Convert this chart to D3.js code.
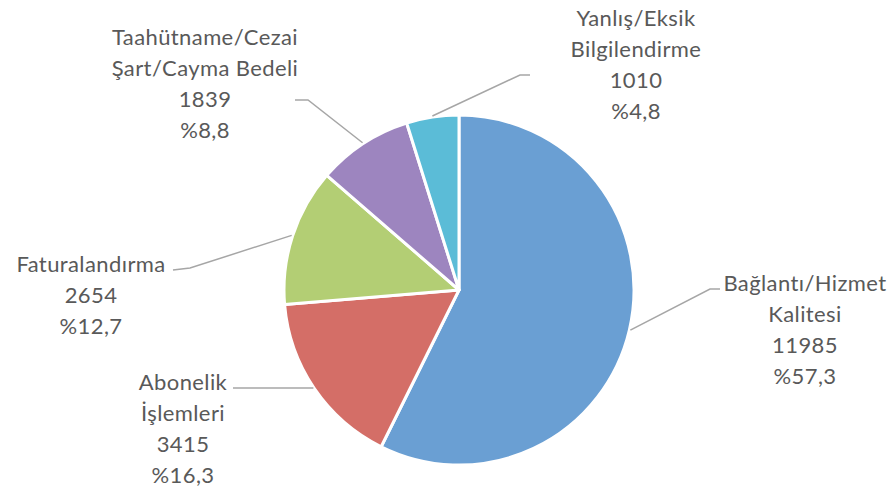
<!DOCTYPE html>
<html>
<head>
<meta charset="utf-8">
<script src="https://cdn.jsdelivr.net/npm/d3@7"></script>
<style>
html,body{margin:0;padding:0;background:#fff;}
svg{display:block;}
</style>
</head>
<body>
<svg id="chart" width="890" height="491"></svg>
<script>
const categories = ["Bağlantı/Hizmet Kalitesi", "Abonelik İşlemleri", "Faturalandırma", "Taahütname/Cezai Şart/Cayma Bedeli", "Yanlış/Eksik Bilgilendirme"];
const labelLines = [["Bağlantı/Hizmet", "Kalitesi"], ["Abonelik", "İşlemleri"], ["Faturalandırma"], ["Taahütname/Cezai", "Şart/Cayma Bedeli"], ["Yanlış/Eksik", "Bilgilendirme"]];
const values = [11985, 3415, 2654, 1839, 1010];
const percents = ["%57,3", "%16,3", "%12,7", "%8,8", "%4,8"];
const colors = ["#6a9fd3", "#d46e67", "#b3ce74", "#9d85bf", "#5bbcd7"];

// layout (positions of label blocks and leader elbows)
const layout = [
  {tx: 805, ty: 283, elbow: [710, 289], end: [720, 289]},
  {tx: 183, ty: 382, elbow: null, end: [233, 388]},
  {tx: 91,  ty: 264, elbow: [190, 268], end: [173, 270]},
  {tx: 205, ty: 37,  elbow: [308, 100], end: [295, 100]},
  {tx: 636, ty: 18,  elbow: [520, 75], end: [530, 75]}
];

const cx = 459, cy = 290, R = 175;
const svg = d3.select("#chart");
const g = svg.append("g").attr("transform", `translate(${cx},${cy})`);

const pie = d3.pie().sort(null).value(d => d);
const arcs = pie(values);
const arc = d3.arc().innerRadius(0).outerRadius(R);
const outer = d3.arc().innerRadius(R + 1).outerRadius(R + 1);

// leader lines
arcs.forEach((a, i) => {
  const p0 = outer.centroid(a);
  const L = layout[i];
  const pts = [[p0[0] + cx, p0[1] + cy]];
  if (L.elbow) pts.push(L.elbow);
  else pts[0][1] = L.end[1];
  pts.push(L.end);
  svg.append("path")
    .attr("d", d3.line()(pts))
    .attr("fill", "none")
    .attr("stroke", "#a6a6a6")
    .attr("stroke-width", 1.5);
});

g.selectAll("path.slice")
  .data(arcs)
  .join("path")
  .attr("class", "slice")
  .attr("d", arc)
  .attr("fill", (d, i) => colors[i])
  .attr("stroke", "#fff")
  .attr("stroke-width", 3)
  .attr("stroke-linejoin", "round");

// labels
arcs.forEach((a, i) => {
  const L = layout[i];
  const lines = labelLines[i].concat([String(values[i]), percents[i]]);
  const t = svg.append("text")
    .attr("text-anchor", "middle")
    .attr("font-family", "Lato, 'Open Sans', sans-serif")
    .attr("font-size", 22)
    .attr("letter-spacing", 0.4)
    .attr("fill", "#595959");
  lines.forEach((s, k) => {
    t.append("tspan")
      .attr("x", L.tx)
      .attr("y", L.ty + 7.5 + k * 31)
      .text(s);
  });
});
</script>
</body>
</html>
